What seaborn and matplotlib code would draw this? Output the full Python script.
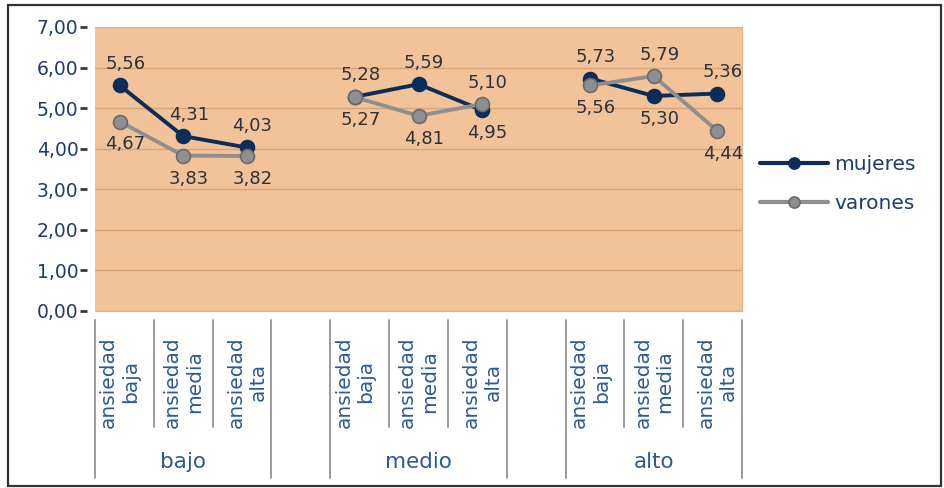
import matplotlib
matplotlib.use("Agg")
import matplotlib.pyplot as plt
import matplotlib.transforms as mtransforms
from matplotlib.patches import Rectangle
import pandas as pd
import seaborn as sns

# data
grupos = ['bajo', 'medio', 'alto']
niveles = ['ansiedad\nbaja', 'ansiedad\nmedia', 'ansiedad\nalta']
mujeres = [5.56, 4.31, 4.03, 5.28, 5.59, 4.95, 5.73, 5.30, 5.36]
varones = [4.67, 3.83, 3.82, 5.27, 4.81, 5.10, 5.56, 5.79, 4.44]
series = ['mujeres', 'varones']
y_ticks = [0, 1, 2, 3, 4, 5, 6, 7]
y_labels = ['0,00', '1,00', '2,00', '3,00', '4,00', '5,00', '6,00', '7,00']

colores = {'mujeres': '#0c2c5a', 'varones': '#8f8f8f'}
bordes = {'mujeres': '#0c2c5a', 'varones': '#6b6b6b'}

sns.set_style('white')
plt.rcParams['font.family'] = ['DejaVu Sans']

# positions: 4 slots per group (3 used + gap), points spread a bit around the centre
filas = []
for g, grupo in enumerate(grupos):
    for i, nivel in enumerate(niveles):
        k = g * 3 + i
        pos = g * 4 + 1.5 + (i - 1) * 1.08
        filas.append({'pos': pos, 'grupo': grupo, 'sexo': 'mujeres', 'valor': mujeres[k]})
        filas.append({'pos': pos, 'grupo': grupo, 'sexo': 'varones', 'valor': varones[k]})
df = pd.DataFrame(filas)

fig = plt.figure(figsize=(9.45, 4.88), dpi=100)
ax = fig.add_axes([95 / 945, 1 - 311 / 488, (742 - 95) / 945, 284 / 488])
ax.set_facecolor('#f2c399')

sns.lineplot(data=df, x='pos', y='valor', hue='sexo', units='grupo', estimator=None,
             palette=colores, marker='o', markersize=10, linewidth=2.8,
             markeredgewidth=1.2, ax=ax, sort=False)

for line in ax.lines:
    c = matplotlib.colors.to_hex(line.get_color())
    for s in series:
        if c == colores[s]:
            line.set_markeredgecolor(bordes[s])

ax.set_xlim(0, 11)
ax.set_ylim(0, 7)
ax.set_yticks(y_ticks)
ax.set_yticklabels(y_labels)
ax.yaxis.grid(True, color='#d7a47a', linewidth=1)
ax.set_axisbelow(True)
for sp in ax.spines.values():
    sp.set_color('#e2b48c')
    sp.set_linewidth(0.8)
ax.spines['left'].set_position(('outward', 6))
ax.spines['left'].set_visible(False)
ax.tick_params(axis='y', left=True, length=5, width=2, color='#3a3a3a', pad=1,
               labelsize=13.5, labelcolor='#1d3c6e')
ax.set_xlabel('')
ax.set_ylabel('')

# x tick labels (rotated) at the level positions
pos_niveles = sorted(df['pos'].unique())
ax.set_xticks(pos_niveles)
ax.set_xticklabels(niveles * len(grupos), rotation=90, multialignment='center',
                   ha='center', va='top')
ax.tick_params(axis='x', bottom=False, length=0, pad=18, labelsize=14.5,
               labelcolor='#2a5a98')

# data labels: higher value above, lower below
for k, p in enumerate(pos_niveles):
    a, b = mujeres[k], varones[k]
    hi, lo = max(a, b), min(a, b)
    ax.annotate(f'{hi:.2f}'.replace('.', ','), (p, hi), xytext=(4, 9),
                textcoords='offset points', ha='center', va='bottom',
                fontsize=13, color='#2b323d')
    ax.annotate(f'{lo:.2f}'.replace('.', ','), (p, lo), xytext=(4, -10),
                textcoords='offset points', ha='center', va='top',
                fontsize=13, color='#2b323d')

# separators and group labels below the axis
trans = mtransforms.blended_transform_factory(ax.transData, ax.transAxes)
y_top = -9 / 284
for g, grupo in enumerate(grupos):
    for j in range(4):
        xs = g * 4 + j
        y_bot = -167 / 284 if j in (0, 3) else -116 / 284
        ax.plot([xs, xs], [y_top, y_bot], transform=trans, color='#9a9a9a',
                linewidth=1.4, clip_on=False)
    ax.text(g * 4 + 1.5, -151 / 284, grupo, transform=trans, ha='center',
            va='center', fontsize=15.5, color='#2a5a98')

leg = ax.get_legend()
handles = leg.legend_handles
labels = [t.get_text() for t in leg.texts]
for h, lab in zip(handles, labels):
    h.set_markeredgecolor(bordes[lab])
    h.set_markersize(8)
    h.set_linewidth(3)
ax.legend(handles, labels, loc='center left', bbox_to_anchor=(760 / 945, 1 - 184 / 488),
          bbox_transform=fig.transFigure, frameon=False, fontsize=14.5,
          handlelength=3.4, handletextpad=0.3, labelspacing=1.0, borderpad=0,
          borderaxespad=0, labelcolor='#1d3c6e')

# outer frame
fig.patches.append(Rectangle((8 / 945, 2 / 488), 933 / 945, 481 / 488,
                             transform=fig.transFigure, fill=False,
                             edgecolor='#333333', linewidth=1.6))

fig.savefig('out.png', dpi=100)
plt.close(fig)
